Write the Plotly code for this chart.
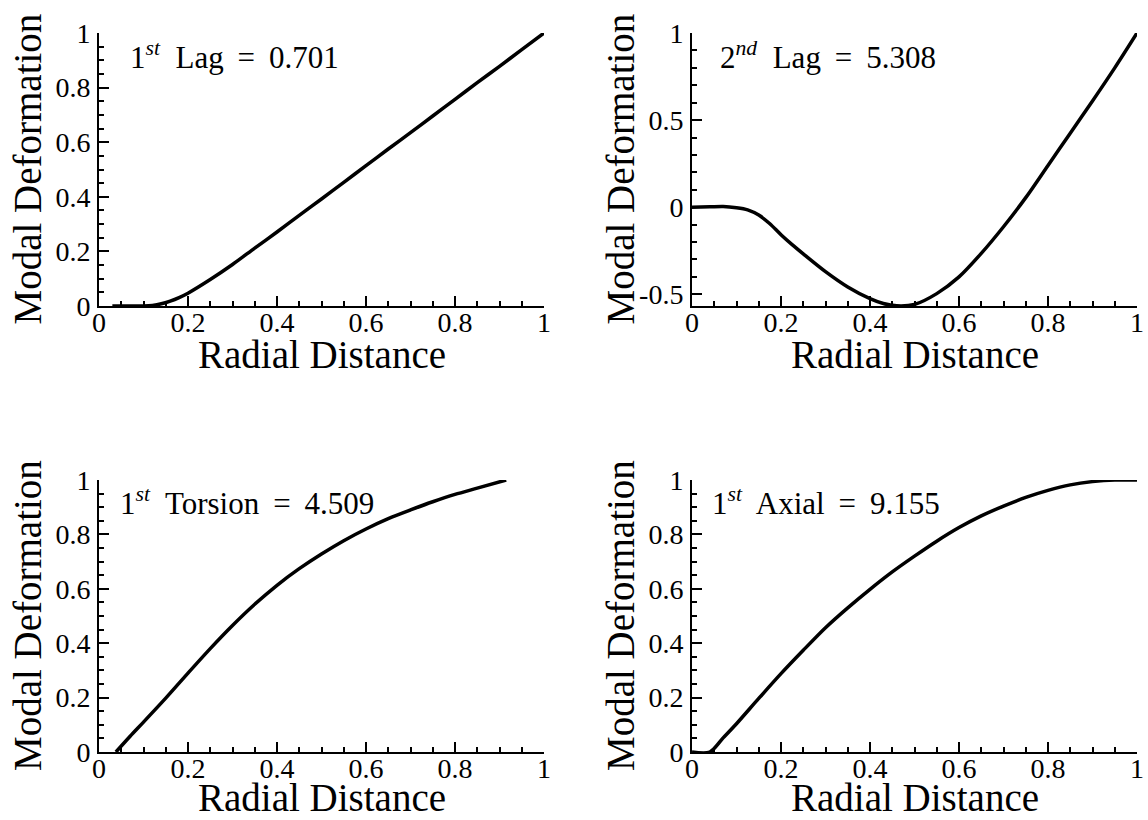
import plotly.graph_objects as go

# ---------------- data ----------------
lag1_x = [0.03, 0.05, 0.08, 0.10, 0.12, 0.14, 0.16, 0.18, 0.20, 0.25, 0.30, 0.35, 0.40,
          0.45, 0.50, 0.55, 0.60, 0.65, 0.70, 0.75, 0.80, 0.85, 0.90, 0.95, 1.00]
lag1_y = [0.0, 0.0, 0.0, 0.0, 0.002, 0.008, 0.018, 0.031, 0.047, 0.097, 0.152, 0.212, 0.271,
          0.332, 0.392, 0.453, 0.514, 0.575, 0.635, 0.696, 0.757, 0.818, 0.878, 0.939, 1.0]

lag2_x = [0.0, 0.04, 0.07, 0.10, 0.125, 0.15, 0.175, 0.20, 0.225, 0.25, 0.30, 0.35, 0.40, 0.43, 0.46,
          0.50, 0.55, 0.60, 0.65, 0.70, 0.75, 0.80, 0.85, 0.90, 0.95, 1.00]
lag2_y = [0.0, 0.002, 0.004, -0.003, -0.015, -0.045, -0.095, -0.158, -0.215, -0.268, -0.37,
          -0.458, -0.525, -0.553, -0.566, -0.558, -0.496, -0.40, -0.265, -0.112, 0.055, 0.24,
          0.425, 0.61, 0.80, 1.0]
lag2_yticks = [-0.5, 0, 0.5, 1]
lag2_yticklabels = ["-0.5", "0", "0.5", "1"]

tor_x = [0.038, 0.07, 0.10, 0.15, 0.20, 0.25, 0.30, 0.35, 0.40, 0.45, 0.50, 0.55, 0.60,
         0.65, 0.70, 0.75, 0.80, 0.85, 0.915]
tor_y = [0.0, 0.058, 0.11, 0.198, 0.29, 0.38, 0.465, 0.543, 0.613, 0.674, 0.728, 0.777, 0.82,
         0.858, 0.89, 0.92, 0.947, 0.97, 1.0]

ax_x = [0.0, 0.04, 0.07, 0.10, 0.15, 0.20, 0.25, 0.30, 0.35, 0.40, 0.45, 0.50, 0.55, 0.60,
        0.65, 0.70, 0.75, 0.80, 0.85, 0.90, 0.95, 1.00]
ax_y = [0.0, 0.0, 0.052, 0.104, 0.197, 0.288, 0.374, 0.457, 0.53, 0.598, 0.662, 0.72, 0.775,
        0.825, 0.868, 0.904, 0.936, 0.962, 0.982, 0.994, 1.0, 1.0]

panel_labels = ["1<sup><i>st</i></sup>  Lag \u2009=\u2009 0.701", "2<sup><i>nd</i></sup>  Lag \u2009=\u2009 5.308",
                "1<sup><i>st</i></sup>  Torsion \u2009=\u2009 4.509", "1<sup><i>st</i></sup>  Axial \u2009=\u2009 9.155"]
x_title = "Radial Distance"
y_title = "Modal Deformation"

# ---------------- layout ----------------
FONT = "Liberation Serif"
W, H = 1148, 820
xdoms = [[99 / W, 544 / W], [692 / W, 1137 / W]]
ydoms = [[1 - 306 / H, 1 - 33 / H], [1 - 752 / H, 1 - 480 / H]]
xtitle_gap = [49, 45]

series = [(lag1_x, lag1_y), (lag2_x, lag2_y), (tor_x, tor_y), (ax_x, ax_y)]
yranges = [[0, 1], [-0.567, 1], [0, 1], [0, 1]]
ydticks = [0.2, 0.5, 0.2, 0.2]
yminor = [0.05, 0.1, 0.05, 0.05]
label_pos = [(0.066, 0.916), (0.058, 0.916), (0.043, 0.922), (0.040, 0.922)]

fig = go.Figure()
annotations = []
for i, (xs, ys) in enumerate(series):
    r, c = divmod(i, 2)
    n = "" if i == 0 else str(i + 1)
    fig.add_trace(go.Scatter(x=xs, y=ys, mode="lines",
                             line=dict(color="black", width=3.5, shape="spline", smoothing=0.8),
                             xaxis="x" + n, yaxis="y" + n, showlegend=False, cliponaxis=False))
    common = dict(showline=True, linecolor="black", linewidth=2, ticks="inside", tickcolor="black",
                  tickwidth=1.5, showgrid=False, zeroline=False, mirror=False, automargin=False,
                  tickfont=dict(family=FONT, size=28, color="black"))
    fig.layout["xaxis" + n] = dict(domain=xdoms[c], anchor="y" + n, range=[0, 1], dtick=0.2, ticklen=10,
                                   tickformat="~g",
                                   minor=dict(dtick=0.05, ticklen=5, ticks="inside", tickcolor="black", showgrid=False),
                                   ticklabelstandoff=-10, **common)
    yax = dict(domain=ydoms[r], anchor="x" + n, range=yranges[i], ticklen=10,
               minor=dict(dtick=yminor[i], ticklen=5, ticks="inside", tickcolor="black", showgrid=False),
               ticklabelstandoff=1, **common)
    if i == 1:
        yax.update(tickmode="array", tickvals=lag2_yticks, ticktext=lag2_yticklabels)
    else:
        yax.update(dtick=ydticks[i], tickformat="~g")
    fig.layout["yaxis" + n] = yax
    lx, ly = label_pos[i]
    annotations.append(dict(text=panel_labels[i], xref="x%s domain" % n, yref="y%s domain" % n,
                            x=lx, y=ly, xanchor="left", yanchor="middle", showarrow=False,
                            font=dict(family=FONT, size=31, color="black")))
    # axis titles
    xd, yd = xdoms[c], ydoms[r]
    annotations.append(dict(text=x_title, xref="paper", yref="paper", x=(xd[0] + xd[1]) / 2,
                            y=yd[0] - xtitle_gap[r] / H, xanchor="center", yanchor="middle", showarrow=False,
                            font=dict(family=FONT, size=39, color="black")))
    annotations.append(dict(text=y_title, xref="paper", yref="paper", x=xd[0] - 72 / W,
                            y=(yd[0] + yd[1]) / 2, xanchor="center", yanchor="middle", showarrow=False,
                            textangle=-90, font=dict(family=FONT, size=39, color="black")))

fig.update_layout(width=W, height=H, margin=dict(l=0, r=0, t=0, b=0), plot_bgcolor="white",
                  paper_bgcolor="white", annotations=annotations, font=dict(family=FONT, color="black"))
fig.write_html("out.html")
